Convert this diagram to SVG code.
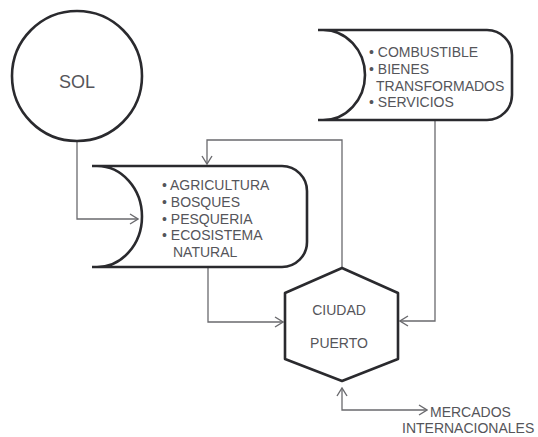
<svg xmlns="http://www.w3.org/2000/svg" width="538" height="437" viewBox="0 0 538 437">
<style>
.shape{fill:none;stroke:#2a2a2e;stroke-width:2.6;stroke-linejoin:round}
.conn{fill:none;stroke:#6a6a6e;stroke-width:1.3}
text{font-family:"Liberation Sans",Arial,sans-serif;font-size:14px;fill:#55555a}
.big{font-size:18px}
.mid{text-anchor:middle}
</style>
<defs>
<marker id="arr" viewBox="0 0 10 12" refX="9" refY="6" markerWidth="10" markerHeight="12" markerUnits="userSpaceOnUse" orient="auto-start-reverse">
<path d="M1,1 L9,6 L1,11" fill="none" stroke="#6a6a6e" stroke-width="1.4"/>
</marker>
</defs>
<rect width="538" height="437" fill="#ffffff"/>
<g id="connectors">
<path class="conn" d="M77,141 V219 H138" marker-end="url(#arr)"/>
<path class="conn" d="M342,268 V140 H207 V164" marker-end="url(#arr)"/>
<path class="conn" d="M208,267 V322 H283" marker-end="url(#arr)"/>
<path class="conn" d="M435,121 V321 H400" marker-end="url(#arr)"/>
<path class="conn" d="M342,388 V410 H427" marker-start="url(#arr)" marker-end="url(#arr)"/>
</g>
<g id="sol">
<circle class="shape" cx="77" cy="76" r="65"/>
<text class="big mid" x="77" y="88">SOL</text>
</g>
<g id="recursos">
<path class="shape" d="M92,166 H282 A25,25 0 0 1 307,191 V242 A25,25 0 0 1 282,267 H92 M97,166 A45,50.5 0 0 1 97,267"/>
<text x="162" y="190">• AGRICULTURA</text>
<text x="162" y="207">• BOSQUES</text>
<text x="162" y="224">• PESQUERIA</text>
<text x="162" y="240">• ECOSISTEMA</text>
<text x="173" y="257">NATURAL</text>
</g>
<g id="insumos">
<path class="shape" d="M318,30 H487 A25,25 0 0 1 512,55 V95 A25,25 0 0 1 487,120 H318 M323,30 A42,45 0 0 1 323,120"/>
<text x="369" y="57">• COMBUSTIBLE</text>
<text x="369" y="74">• BIENES</text>
<text x="376" y="91">TRANSFORMADOS</text>
<text x="369" y="107">• SERVICIOS</text>
</g>
<g id="ciudad">
<polygon class="shape" points="342,268 398,293 398,359 342,381 285,359 285,293"/>
<text class="mid" x="339" y="315">CIUDAD</text>
<text class="mid" x="339" y="348">PUERTO</text>
</g>
<g id="mercados">
<text x="430" y="417">MERCADOS</text>
<text x="402" y="433">INTERNACIONALES</text>
</g>
</svg>
